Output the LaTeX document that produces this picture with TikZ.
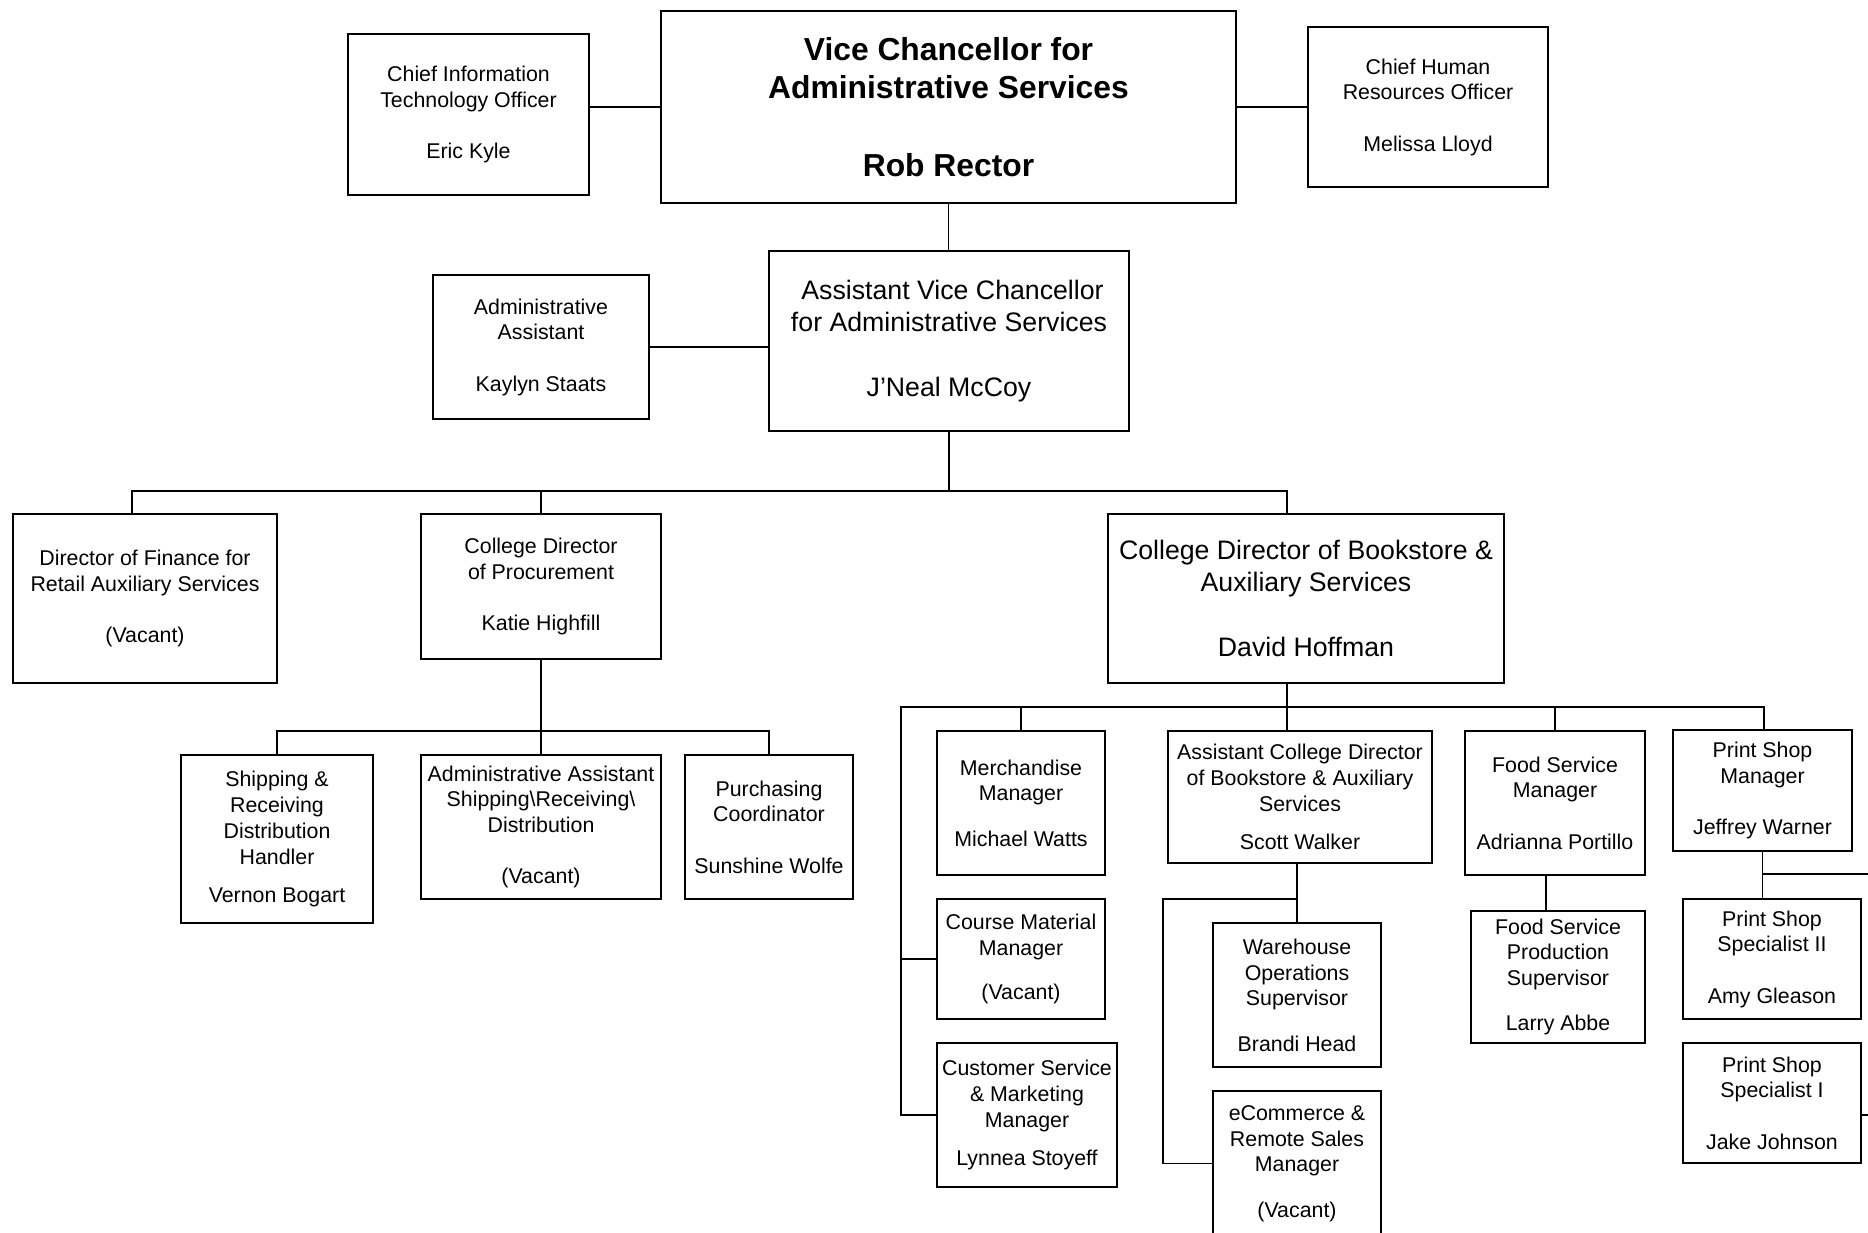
\documentclass[tikz,border=0pt]{standalone}
\usepackage{fontspec}
\setmainfont{Liberation Sans}
\newcommand\fsm{\fontsize{21.35pt}{25.8pt}\selectfont}
\newcommand\flg{\fontsize{26.7pt}{32.2pt}\selectfont}
\newcommand\fbd{\fontsize{31.8pt}{38.1pt}\selectfont\bfseries}
\begin{document}
\begin{tikzpicture}[x=1pt,y=-1pt,
  box/.style 2 args={draw, line width=2pt, minimum width=#1, minimum height=#2, inner sep=0pt, align=center, font=\fsm},
  con/.style={line width=1.8pt}]
\clip (0,0) rectangle (1868,1232);
\fill[white] (0,0) rectangle (1868,1232);

% level 1
\node[box={575pt}{192pt}, font=\fbd] (vc) at (948.5,107) {Vice Chancellor for\\Administrative Services\\[39.3pt]Rob Rector};
\node[box={241pt}{161pt}] (cit) at (468.5,114.5) {Chief Information\\Technology Officer\\[25.4pt]Eric Kyle};
\node[box={240pt}{160pt}] (chro) at (1428,107) {Chief Human\\Resources Officer\\[25.4pt]Melissa Lloyd};

% level 2
\node[box={360pt}{180pt}, font=\flg] (avc) at (949,341) {\hspace{7pt}Assistant Vice Chancellor\\for Administrative Services\\[32.2pt]J’Neal McCoy};
\node[box={216pt}{144pt}] (aa) at (541,347) {Administrative\\Assistant\\[25.4pt]Kaylyn Staats};

% level 3
\node[box={264pt}{169pt}] (dirfin) at (145,598.5) {Director of Finance for\\Retail Auxiliary Services\\[25.4pt](Vacant)};
\node[box={240pt}{145pt}] (proc) at (541,586.5) {College Director\\of Procurement\\[25.4pt]Katie Highfill};
\node[box={396pt}{169pt}, font=\flg] (book) at (1306,598.5) {College Director of Bookstore \&\\Auxiliary Services\\[32.2pt]David Hoffman};

% procurement staff
\node[box={192pt}{168pt}] (ship) at (277,839) {Shipping \&\\Receiving\\Distribution\\Handler\\[12.3pt]Vernon Bogart};
\node[box={240pt}{144pt}] (aa2) at (541,827) {Administrative Assistant\\Shipping\textbackslash Receiving\textbackslash\\Distribution\\[25.4pt](Vacant)};
\node[box={168pt}{144pt}] (purch) at (769,827) {Purchasing\\Coordinator\\[25.4pt]Sunshine Wolfe};

% bookstore staff
\node[box={168pt}{144pt}] (merch) at (1021,803) {Merchandise\\Manager\\[19.4pt]Michael Watts};
\node[box={168pt}{120pt}] (cm) at (1021,959) {Course Material\\Manager\\[18.3pt](Vacant)};
\node[box={180pt}{144pt}] (cs) at (1027,1115) {Customer Service\\\& Marketing\\Manager\\[12.3pt]Lynnea Stoyeff};
\node[box={264pt}{132pt}] (ad) at (1300,797) {Assistant College Director\\of Bookstore \& Auxiliary\\Services\\[12.3pt]Scott Walker};
\node[box={168pt}{144pt}] (wh) at (1297,995) {Warehouse\\Operations\\Supervisor\\[19.4pt]Brandi Head};
\node[box={168pt}{145pt}] (ecom) at (1297,1163.5) {eCommerce \&\\Remote Sales\\Manager\\[19.4pt](Vacant)};
\node[box={180pt}{144pt}] (food) at (1555,803) {Food Service\\Manager\\[25.4pt]Adrianna Portillo};
\node[box={174pt}{132pt}] (fp) at (1558,977) {Food Service\\Production\\Supervisor\\[19.4pt]Larry Abbe};
\node[box={179pt}{121pt}] (psm) at (1762.5,790.5) {Print Shop\\Manager\\[25.4pt]Jeffrey Warner};
\node[box={178pt}{120pt}] (pss2) at (1772,959) {Print Shop\\Specialist II\\[25.4pt]Amy Gleason};
\node[box={178pt}{120pt}] (pss1) at (1772,1103) {Print Shop\\Specialist I\\[25.4pt]Jake Johnson};

% bus coordinates
\coordinate (b1L) at (132,491);
\coordinate (b1R) at (1287,491);
\coordinate (b2L) at (277,731);
\coordinate (b2R) at (769,731);
\coordinate (b3L) at (901,707);
\coordinate (b3R) at (1764,707);
\coordinate (adb) at (1297,899);
\coordinate (adl) at (1163,899);
\coordinate (psb) at (1762,874);
\coordinate (psr) at (1890,874);
\coordinate (psr2) at (1890,1115);

% connectors
\draw[con] (vc.west) -- (cit.east |- vc.west);
\draw[con] (vc.east) -- (chro.west |- vc.east);
\draw[con] (vc.south) -- (vc.south |- avc.north);
\draw[con] (aa.east) -- (aa.east -| avc.west);
\draw[con] (avc.south) -- (avc.south |- b1L);
\draw[con] (b1L |- dirfin.north) -- (b1L) -- (b1R) -- (b1R |- book.north);
\draw[con] (proc.north) -- (proc.north |- b1L);
\draw[con] (proc.south) -- (proc.south |- aa2.north);
\draw[con] (ship.north) -- (b2L) -- (b2R) -- (purch.north);
\draw[con] (b1R |- book.south) -- (b1R |- ad.north);
\draw[con] (b3R |- psm.north) -- (b3R) -- (b3L) -- (b3L |- cs.west) -- (cs.west);
\draw[con] (b3L |- cm.west) -- (cm.west);
\draw[con] (merch.north) -- (merch.north |- b3L);
\draw[con] (food.north) -- (food.north |- b3L);
\draw[con] (wh.north |- ad.south) -- (wh.north);
\draw[con] (adb) -- (adl) -- (adl |- ecom.west) -- (ecom.west);
\draw[con] ([xshift=-9pt]food.south) -- ([xshift=-9pt]food.south |- fp.north);
\draw[con] (psm.south) -- (psm.south |- pss2.north);
\draw[con] (psb) -- (psr) -- (psr2) -- (psr2 -| pss1.east);
\end{tikzpicture}
\end{document}
